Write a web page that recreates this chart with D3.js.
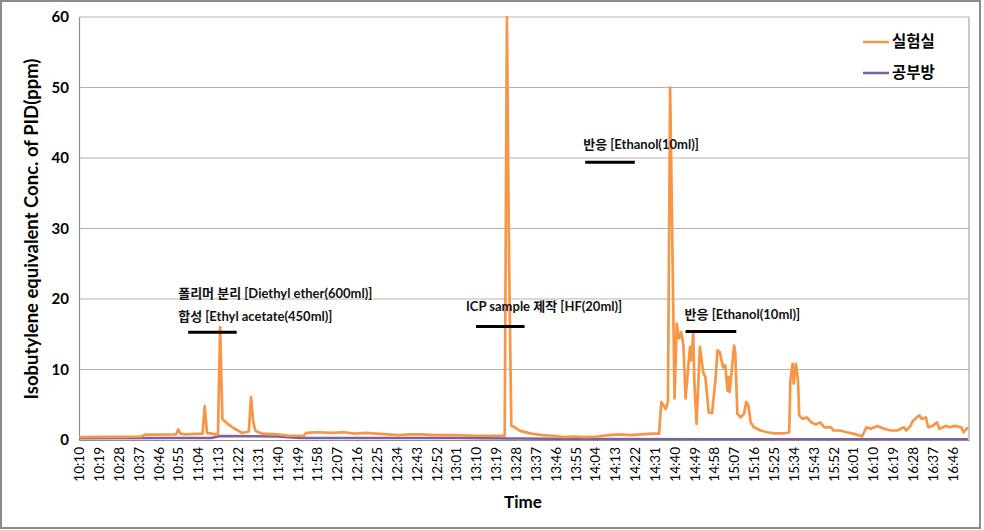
<!DOCTYPE html>
<html><head><meta charset="utf-8">
<script src="https://cdn.jsdelivr.net/npm/d3@7"></script>
<style>
html,body{margin:0;padding:0;background:#fff;}
svg{display:block;font-family:Lato,"Noto Sans CJK KR",sans-serif;}
</style></head>
<body><svg id="c" width="984" height="530"></svg>
<script>
// ---- data ----
const seriesNames = ["실험실", "공부방"];
const labTimes = ["10:10","10:20","10:30","10:38","10:40","10:54","10:55","10:56","10:58","11:06","11:07","11:08","11:12","11:13","11:14","11:15","11:17","11:20","11:24","11:27","11:28","11:29","11:30","11:33","11:40","11:45","11:52","11:53","11:58","12:05","12:10","12:15","12:20","12:25","12:30","12:35","12:40","12:45","12:52","13:00","13:10","13:20","13:23","13:24","13:25","13:26","13:27","13:30","13:35","13:40","13:45","13:50","13:55","14:00","14:05","14:10","14:15","14:20","14:25","14:30","14:33","14:34","14:36","14:37","14:38","14:40","14:41","14:42","14:43","14:44","14:45","14:47","14:47.5","14:48.5","14:49","14:50","14:51.5","14:53","14:54","14:55.5","14:57","14:58.5","14:59.5","15:00.5","15:02","15:03","15:04","15:04.5","15:05","15:07","15:07.5","15:08.5","15:10","15:11.5","15:12.5","15:13.5","15:14.5","15:16","15:19","15:22","15:25","15:28","15:30","15:32","15:32.5","15:33.5","15:34","15:35","15:36","15:36.5","15:38","15:40","15:42","15:44","15:46","15:48","15:51","15:52","15:55","15:58","16:01","16:03","16:05","16:07","16:09","16:12","16:15","16:18","16:21","16:24","16:25","16:27","16:28","16:31","16:32","16:34","16:35","16:37","16:39","16:40","16:43","16:45","16:47","16:50","16:51","16:53"];
const labValues = [0.4,0.45,0.45,0.5,0.75,0.8,1.5,0.9,0.8,0.9,4.8,1.0,0.8,0.9,16.0,3.0,2.4,1.7,1.0,1.2,6.1,2.5,1.3,0.9,0.8,0.6,0.6,1.0,1.1,1.0,1.1,0.9,1.0,0.9,0.8,0.7,0.8,0.8,0.7,0.7,0.6,0.6,0.6,60,25,2.0,1.9,1.3,0.9,0.7,0.6,0.4,0.5,0.4,0.5,0.7,0.8,0.7,0.8,0.9,0.9,5.4,4.4,5.4,50.0,5.9,16.5,14.4,15.3,13.5,5.9,13.2,11.3,15.1,8.0,2.3,13.2,9.6,8.9,3.9,3.8,8.4,12.7,12.5,10.3,10.6,7.0,8.9,6.8,13.4,12.5,3.7,3.2,3.7,5.4,4.9,2.5,1.8,1.35,1.1,0.95,0.95,0.95,1.1,8.4,10.8,8.0,10.8,8.4,3.5,3.0,3.2,2.5,2.2,2.5,1.8,1.8,1.35,1.35,1.1,0.9,0.7,0.5,1.8,1.6,2.0,1.6,1.35,1.35,1.8,1.35,2.0,2.7,3.5,3.0,3.2,1.8,2.0,2.5,1.6,2.0,1.8,2.0,1.8,1.1,1.8];
const roomTimes = ["10:10","10:50","11:10","11:14","11:40","11:50","12:30","13:00","13:30","14:00","15:00","16:53"];
const roomValues = [0.25,0.3,0.3,0.55,0.5,0.3,0.3,0.3,0.2,0.15,0.1,0.1];
const yTicks = [0,10,20,30,40,50,60];
const xTickStart = "10:10", xTickEnd = "16:46", xTickStep = 9;
const xDomain = ["10:10","16:53.5"];
const annotationTexts = [
  ["폴리머 분리 [Diethyl ether(600ml)]","합성 [Ethyl acetate(450ml)]"],
  ["ICP sample 제작 [HF(20ml)]"],
  ["반응 [Ethanol(10ml)]"],
  ["반응 [Ethanol(10ml)]"]
];
const annotationFrom = ["10:59.5","13:10","13:59.5","14:45"];
const annotationTo = ["11:21.5","13:32","14:22","15:08"];
const annotationLevel = [15.3,16.1,39.4,15.4];

// ---- layout (text offsets relative to the bar) ----
const annoLayout = [{dx:-10,dy:-11},{dx:-10,dy:-15},{dx:-2,dy:-13},{dx:-1,dy:-12}];

// ---- helpers ----
const toMin = s => { const [h,m] = s.split(":"); return (+h)*60 + (+m); };
const fmt = m => { const h = Math.floor(m/60), mm = m%60; return h + ":" + String(mm).padStart(2,"0"); };

const svg = d3.select("#c");
const L = 79, R = 969, T = 17, B = 440;
const x = d3.scaleLinear().domain(xDomain.map(toMin)).range([L, R]);
const y = d3.scaleLinear().domain([0,60]).range([B, T]);

// outer border
svg.append("rect").attr("x",1).attr("y",1).attr("width",979).attr("height",527)
  .attr("fill","#fff").attr("stroke","#8c8c8c").attr("stroke-width",2);

// gridlines
svg.append("g").selectAll("line").data(yTicks.filter(d=>d>0)).join("line")
  .attr("x1",L).attr("x2",R).attr("y1",d=>y(d)).attr("y2",d=>y(d))
  .attr("stroke","#b3b3b3").attr("stroke-width",1.2);
svg.append("line").attr("x1",R).attr("x2",R).attr("y1",T).attr("y2",B).attr("stroke","#a6a6a6").attr("stroke-width",1.2);

// y axis
const yAxis = svg.append("g").attr("transform",`translate(${L},0)`)
  .call(d3.axisLeft(y).tickValues(yTicks).tickSize(0).tickPadding(10));
yAxis.select(".domain").attr("stroke","#8c8c8c").attr("stroke-width",1.2);
yAxis.selectAll("text").attr("font-size",15).attr("font-weight","bold").attr("fill","#000")
  .attr("font-family","Lato,'Noto Sans CJK KR',sans-serif");

// x axis
const xTicks = d3.range(toMin(xTickStart), toMin(xTickEnd)+1, xTickStep);
const xAxis = svg.append("g").attr("transform",`translate(0,${B})`)
  .call(d3.axisBottom(x).tickValues(xTicks).tickFormat(fmt).tickSize(0));
xAxis.select(".domain").attr("stroke","#8c8c8c").attr("stroke-width",1.2);
xAxis.selectAll("text").attr("font-size",13.5).attr("fill","#000")
  .attr("font-family","Lato,'Noto Sans CJK KR',sans-serif")
  .attr("transform","rotate(-90)").attr("text-anchor","end")
  .attr("x",-7).attr("y",0).attr("dy","0.35em");

// axis titles
svg.append("text").attr("x",523).attr("y",508).attr("text-anchor","middle")
  .attr("font-size",17).attr("font-weight","bold").text("Time");
svg.append("text").attr("transform","translate(38,229) rotate(-90)").attr("text-anchor","middle")
  .attr("font-size",18.5).attr("font-weight","bold").text("Isobutylene equivalent Conc. of PID(ppm)");

// lines
const line = d3.line().x(d=>x(d[0])).y(d=>y(d[1]));
svg.append("clipPath").attr("id","pc").append("rect").attr("x",L).attr("y",T-2).attr("width",R-L).attr("height",B-T+2);
const roomData = roomTimes.map((t,i)=>[toMin(t), roomValues[i]]);
const labData = labTimes.map((t,i)=>[toMin(t), labValues[i]]);
svg.append("path").datum(roomData).attr("d",line).attr("fill","none")
  .attr("stroke","#7d60a0").attr("stroke-width",2.5).attr("clip-path","url(#pc)");
svg.append("path").datum(labData).attr("d",line).attr("fill","none")
  .attr("stroke","#f79646").attr("stroke-width",2.7).attr("stroke-linejoin","round").attr("clip-path","url(#pc)");

// annotations
annotationTexts.forEach((lines,k)=>{
  const x0 = x(toMin(annotationFrom[k])), x1 = x(toMin(annotationTo[k])), yy = y(annotationLevel[k]);
  svg.append("line").attr("x1",x0).attr("x2",x1).attr("y1",yy).attr("y2",yy)
    .attr("stroke","#000").attr("stroke-width",3);
  const n = lines.length, lo = annoLayout[k];
  lines.forEach((s,i)=>{
    svg.append("text").attr("x",x0+lo.dx).attr("y",yy+lo.dy-(n-1-i)*23)
      .attr("font-size",13).attr("font-weight","bold").attr("fill","#111").text(s);
  });
});

// legend
const legColors = ["#f79646","#7d60a0"];
seriesNames.forEach((s,i)=>{
  const ly = 42 + i*31;
  svg.append("line").attr("x1",863).attr("x2",889).attr("y1",ly).attr("y2",ly)
    .attr("stroke",legColors[i]).attr("stroke-width",2.5);
  svg.append("text").attr("x",892).attr("y",ly).attr("dy","0.35em")
    .attr("font-size",15.5).attr("font-weight","bold").text(s);
});
</script></body></html>
